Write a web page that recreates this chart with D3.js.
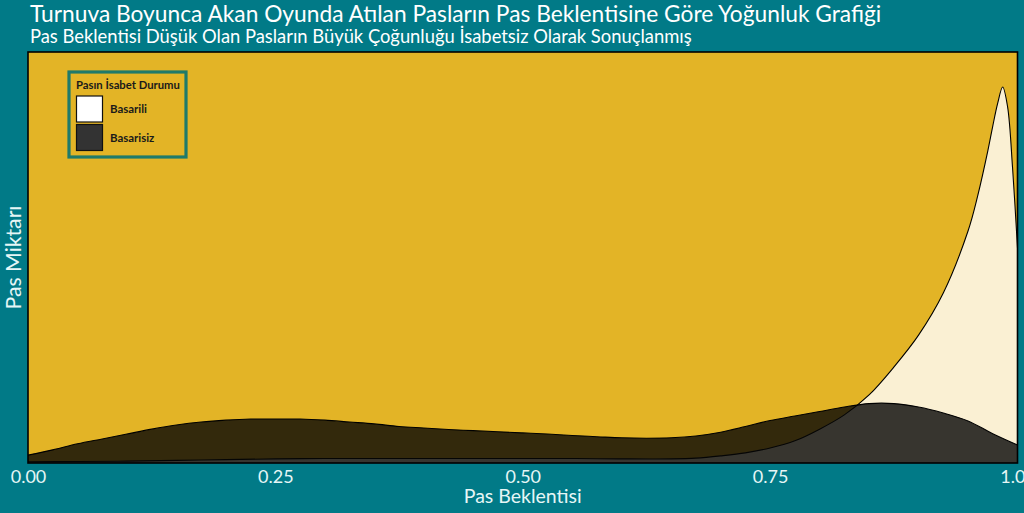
<!DOCTYPE html>
<html><head><meta charset="utf-8">
<script src="https://cdn.jsdelivr.net/npm/d3@7"></script>
<style>html,body{margin:0;padding:0;background:#017A87;}svg{display:block;}</style>
</head><body>
<svg id="c" width="1024" height="513"></svg>
<script>
// ---- data ----
const seriesNames = ["Basarili", "Basarisiz"];
const xTicks = [0, 0.25, 0.5, 0.75, 1];
const xTickLabels = ["0.00", "0.25", "0.50", "0.75", "1.00"];

const xBasarisiz = [0,0.025,0.05,0.075,0.1,0.125,0.15,0.175,0.2,0.225,0.25,0.275,0.3,0.325,0.35,0.375,0.4,0.425,0.45,0.475,0.5,0.525,0.55,0.575,0.6,0.625,0.65,0.675,0.7,0.725,0.75,0.775,0.8,0.825,0.85,0.875,0.9,0.925,0.95,0.975,1];
const yBasarisiz = [0.21,0.35,0.51,0.64,0.77,0.90,1.01,1.09,1.14,1.17,1.17,1.17,1.14,1.09,1.04,0.97,0.93,0.89,0.86,0.83,0.80,0.77,0.73,0.70,0.67,0.66,0.67,0.72,0.82,0.97,1.13,1.25,1.37,1.49,1.58,1.58,1.49,1.33,1.12,0.78,0.48];

const xBasarili = [0,0.05,0.1,0.15,0.2,0.25,0.3,0.35,0.4,0.45,0.5,0.55,0.6,0.65,0.675,0.7,0.725,0.75,0.775,0.8,0.825,0.85,0.875,0.9,0.925,0.95,0.96,0.97,0.975,0.98,0.985,0.99,0.995,1];
const yBasarili = [0.03,0.04,0.05,0.07,0.09,0.11,0.12,0.12,0.12,0.12,0.12,0.12,0.11,0.11,0.13,0.19,0.27,0.40,0.59,0.90,1.28,1.81,2.55,3.40,4.52,6.17,7.13,8.30,8.96,9.57,10.0,9.47,7.85,5.72];

// ---- layout ----
const svg = d3.select("#c");
const W = 1024, H = 513;
const P = {l: 28, r: 1017.5, t: 52, b: 463};
const bg = "#017A87", panelBg = "#E3B426", txt = "#E6F6F6";

svg.append("rect").attr("width", W).attr("height", H).attr("fill", bg);

const x = d3.scaleLinear().domain([0, 1]).range([P.l, P.r]);
const y = d3.scaleLinear().domain([0, 10.93]).range([P.b, P.t]);

svg.append("defs").append("clipPath").attr("id", "clip")
  .append("rect").attr("x", P.l).attr("y", P.t).attr("width", P.r - P.l).attr("height", P.b - P.t);

svg.append("rect").attr("x", P.l).attr("y", P.t).attr("width", P.r - P.l).attr("height", P.b - P.t)
  .attr("fill", panelBg);

const g = svg.append("g").attr("clip-path", "url(#clip)");
const curve = d3.curveCatmullRom.alpha(0.5);
const area = d3.area().x(d => x(d[0])).y0(y(0)).y1(d => y(Math.max(0, d[1]))).curve(curve);
const line = d3.line().x(d => x(d[0])).y(d => y(d[1])).curve(curve);

const series = [
  {name: seriesNames[0], pts: xBasarili.map((v, i) => [v, yBasarili[i]]), fill: "#FFFFFF", op: 0.8},
  {name: seriesNames[1], pts: xBasarisiz.map((v, i) => [v, yBasarisiz[i]]), fill: "#060606", op: 0.8}
];
series.forEach(s => {
  g.append("path").attr("d", area(s.pts)).attr("fill", s.fill).attr("fill-opacity", s.op);
  g.append("path").attr("d", line(s.pts)).attr("fill", "none").attr("stroke", "#000").attr("stroke-width", 1.1);
});

// panel border
svg.append("rect").attr("x", P.l).attr("y", P.t).attr("width", P.r - P.l).attr("height", P.b - P.t)
  .attr("fill", "none").attr("stroke", "#000").attr("stroke-width", 1.6);

const FONT = "Lato, 'Open Sans', sans-serif";
function fitText(sel, target) {
  const w = sel.node().getComputedTextLength();
  const fs = +sel.attr("font-size");
  sel.attr("font-size", fs * target / w);
}

// x axis
const xAxis = d3.axisBottom(x).tickValues(xTicks).tickSize(0).tickPadding(0)
  .tickFormat((d, i) => xTickLabels[i]);
const ax = svg.append("g").attr("transform", `translate(0,${P.b})`).call(xAxis);
ax.select(".domain").remove();
ax.selectAll("text").attr("fill", txt).attr("font-family", FONT).attr("font-size", 18)
  .attr("dy", null).attr("y", 20);

// axis titles
const xt = svg.append("text").attr("x", (P.l + P.r) / 2).attr("y", 503).attr("text-anchor", "middle")
  .attr("fill", txt).attr("font-family", FONT).attr("font-size", 18).text("Pas Beklentisi");
fitText(xt, 118);
const yt = svg.append("text").attr("transform", `translate(21,${(P.t + P.b) / 2}) rotate(-90)`).attr("text-anchor", "middle")
  .attr("fill", txt).attr("font-family", FONT).attr("font-size", 18).text("Pas Miktarı");
fitText(yt, 104);

// titles, fitted to measured widths
const t1 = svg.append("text").attr("x", 30).attr("y", 22).attr("fill", "#FFFFFF")
  .attr("font-family", FONT).attr("font-size", 20)
  .text("Turnuva Boyunca Akan Oyunda Atılan Pasların Pas Beklentisine Göre Yoğunluk Grafiği");
fitText(t1, 852);
const t2 = svg.append("text").attr("x", 30).attr("y", 43).attr("fill", "#FFFFFF")
  .attr("font-family", FONT).attr("font-size", 15)
  .text("Pas Beklentisi Düşük Olan Pasların Büyük Çoğunluğu İsabetsiz Olarak Sonuçlanmış");
fitText(t2, 662);

// legend
const lg = svg.append("g");
lg.append("rect").attr("x", 69).attr("y", 72).attr("width", 117).attr("height", 85)
  .attr("fill", panelBg).attr("stroke", "#1F7A6A").attr("stroke-width", 3.2);
const lt = lg.append("text").attr("x", 76).attr("y", 89).attr("fill", "#1a1a1a")
  .attr("font-family", FONT).attr("font-weight", "bold").attr("font-size", 9.5).text("Pasın İsabet Durumu");
fitText(lt, 104);
const keyFill = ["#FFFFFF", "#333333"];
let lblSize = 11;
seriesNames.forEach((n, i) => {
  const ky = 96 + i * 28.5;
  lg.append("rect").attr("x", 76.5).attr("y", ky).attr("width", 26).attr("height", 26)
    .attr("fill", keyFill[i]).attr("stroke", "#111").attr("stroke-width", 1.2);
  const lbl = lg.append("text").attr("x", 110).attr("y", ky + 17).attr("fill", "#1a1a1a")
    .attr("font-family", FONT).attr("font-weight", "bold").attr("font-size", lblSize).text(n);
  if (i === 0) { fitText(lbl, 37); lblSize = +lbl.attr("font-size"); }
});
</script>
</body></html>
